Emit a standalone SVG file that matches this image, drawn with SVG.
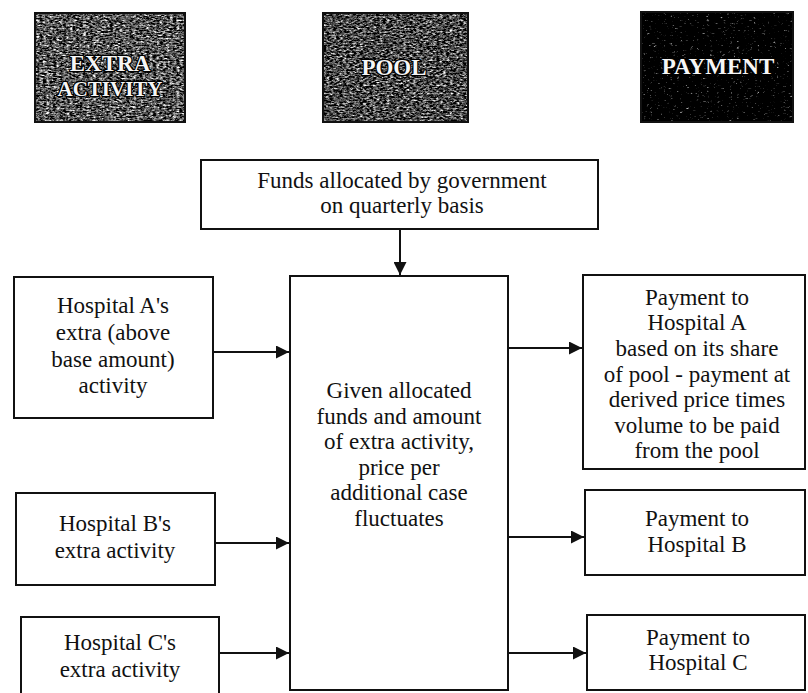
<svg xmlns="http://www.w3.org/2000/svg" width="808" height="693" viewBox="0 0 808 693">
<style>
.box{fill:#fff;stroke:#111;stroke-width:2}
.t{font-family:"Liberation Serif",serif;font-size:23px;fill:#111;text-anchor:middle}
.h{font-family:"Liberation Serif",serif;font-size:23px;font-weight:bold;fill:#f6f6f6;stroke:#000;stroke-width:2.4;text-anchor:middle;paint-order:stroke;stroke-linejoin:round}
.c{stroke:#111;stroke-width:2;fill:none}
</style>
<defs>
<marker id="ah" viewBox="0 0 10 10" refX="10" refY="5" markerWidth="7" markerHeight="6.5" orient="auto" markerUnits="strokeWidth">
<path d="M0,0 L10,5 L0,10 Z" fill="#111"/>
</marker>
<filter id="n1" x="0" y="0" width="1" height="1" color-interpolation-filters="sRGB">
<feTurbulence type="fractalNoise" baseFrequency="0.3 0.6" numOctaves="4" seed="3"/>
<feColorMatrix type="matrix" values="0.33 0.33 0.33 0 0 0.33 0.33 0.33 0 0 0.33 0.33 0.33 0 0 0 0 0 0 1"/>
<feComponentTransfer><feFuncR type="linear" slope="3.6" intercept="-1.45"/><feFuncG type="linear" slope="3.6" intercept="-1.45"/><feFuncB type="linear" slope="3.6" intercept="-1.45"/></feComponentTransfer>
</filter>
<filter id="n2" x="0" y="0" width="1" height="1" color-interpolation-filters="sRGB">
<feTurbulence type="fractalNoise" baseFrequency="0.3 0.6" numOctaves="4" seed="7"/>
<feColorMatrix type="matrix" values="0.33 0.33 0.33 0 0 0.33 0.33 0.33 0 0 0.33 0.33 0.33 0 0 0 0 0 0 1"/>
<feComponentTransfer><feFuncR type="linear" slope="3.6" intercept="-1.5"/><feFuncG type="linear" slope="3.6" intercept="-1.5"/><feFuncB type="linear" slope="3.6" intercept="-1.5"/></feComponentTransfer>
</filter>
<filter id="n3" x="0" y="0" width="1" height="1" color-interpolation-filters="sRGB">
<feTurbulence type="fractalNoise" baseFrequency="0.3 0.6" numOctaves="4" seed="11"/>
<feColorMatrix type="matrix" values="0.33 0.33 0.33 0 0 0.33 0.33 0.33 0 0 0.33 0.33 0.33 0 0 0 0 0 0 1"/>
<feComponentTransfer><feFuncR type="linear" slope="4" intercept="-2.35"/><feFuncG type="linear" slope="4" intercept="-2.35"/><feFuncB type="linear" slope="4" intercept="-2.35"/></feComponentTransfer>
</filter>
</defs>
<rect width="808" height="693" fill="#fff"/>

<g id="hdr-extra">
<rect x="35" y="13" width="150" height="109" fill="#777" filter="url(#n1)"/>
<rect x="35" y="13" width="150" height="109" fill="none" stroke="#111" stroke-width="2"/>
<text class="h" x="110" y="71">EXTRA</text>
<text class="h" x="110" y="96" style="font-size:21px">ACTIVITY</text>
</g>
<g id="hdr-pool">
<rect x="323" y="13" width="145" height="109" fill="#777" filter="url(#n2)"/>
<rect x="323" y="13" width="145" height="109" fill="none" stroke="#111" stroke-width="2"/>
<text class="h" x="394" y="75">POOL</text>
</g>
<g id="hdr-payment">
<rect x="641" y="12" width="152" height="110" fill="#222" filter="url(#n3)"/>
<rect x="641" y="12" width="152" height="110" fill="none" stroke="#111" stroke-width="2"/>
<text class="h" x="718" y="74">PAYMENT</text>
</g>

<g id="funds">
<rect class="box" x="201" y="160" width="397" height="69"/>
<text class="t" x="402" y="188">Funds allocated by government</text>
<text class="t" x="402" y="213">on quarterly basis</text>
</g>

<g id="pool-calc">
<rect class="box" x="290" y="276" width="218" height="414"/>
<text class="t" x="399" y="398">Given allocated</text>
<text class="t" x="399" y="424">funds and amount</text>
<text class="t" x="399" y="449">of extra activity,</text>
<text class="t" x="399" y="475">price per</text>
<text class="t" x="399" y="500">additional case</text>
<text class="t" x="399" y="526">fluctuates</text>
</g>

<g id="hosp-a">
<rect class="box" x="14" y="277" width="199" height="141"/>
<text class="t" x="113" y="313">Hospital A's</text>
<text class="t" x="113" y="340">extra (above</text>
<text class="t" x="113" y="367">base amount)</text>
<text class="t" x="113" y="393">activity</text>
</g>
<g id="hosp-b">
<rect class="box" x="16" y="493" width="199" height="92"/>
<text class="t" x="115" y="531">Hospital B's</text>
<text class="t" x="115" y="558">extra activity</text>
</g>
<g id="hosp-c">
<rect class="box" x="21" y="617" width="198" height="80"/>
<text class="t" x="120" y="650">Hospital C's</text>
<text class="t" x="120" y="677">extra activity</text>
</g>

<g id="pay-a">
<rect class="box" x="583" y="275" width="222" height="194"/>
<text class="t" x="697" y="305">Payment to</text>
<text class="t" x="697" y="330">Hospital A</text>
<text class="t" x="697" y="356">based on its share</text>
<text class="t" x="697" y="382">of pool - payment at</text>
<text class="t" x="697" y="407">derived price times</text>
<text class="t" x="697" y="433">volume to be paid</text>
<text class="t" x="697" y="458">from the pool</text>
</g>
<g id="pay-b">
<rect class="box" x="585" y="490" width="220" height="85"/>
<text class="t" x="697" y="526">Payment to</text>
<text class="t" x="697" y="552">Hospital B</text>
</g>
<g id="pay-c">
<rect class="box" x="587" y="615" width="218" height="75"/>
<text class="t" x="698" y="645">Payment to</text>
<text class="t" x="698" y="670">Hospital C</text>
</g>

<g id="connectors">
<line class="c" x1="400" y1="229" x2="400" y2="275" marker-end="url(#ah)"/>
<line class="c" x1="213" y1="352" x2="289" y2="352" marker-end="url(#ah)"/>
<line class="c" x1="215" y1="543" x2="289" y2="543" marker-end="url(#ah)"/>
<line class="c" x1="219" y1="653" x2="289" y2="653" marker-end="url(#ah)"/>
<line class="c" x1="508" y1="348" x2="582" y2="348" marker-end="url(#ah)"/>
<line class="c" x1="508" y1="537" x2="584" y2="537" marker-end="url(#ah)"/>
<line class="c" x1="508" y1="653" x2="586" y2="653" marker-end="url(#ah)"/>
</g>
</svg>
